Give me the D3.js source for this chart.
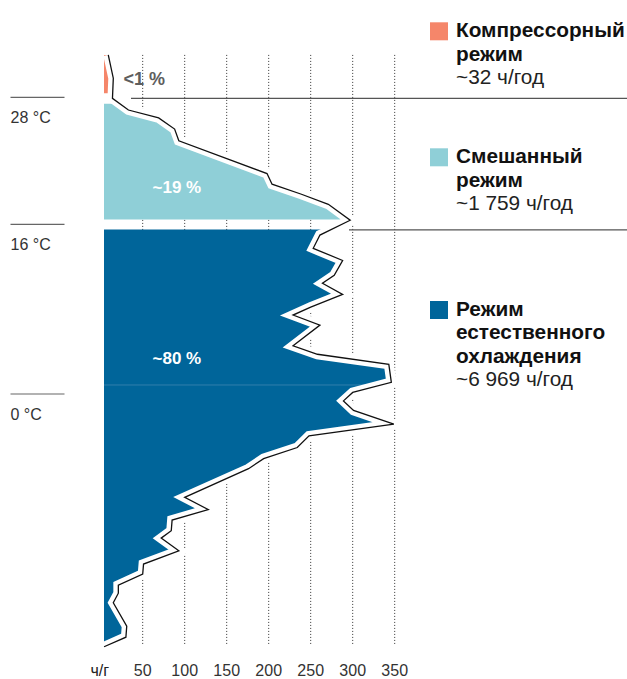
<!DOCTYPE html>
<html>
<head>
<meta charset="utf-8">
<script src="https://cdn.jsdelivr.net/npm/d3@7"></script>
<style>
    body { margin: 0; background: #fff; }
    svg { display: block; font-family: "Liberation Sans", Arial, sans-serif; }
</style>
</head>
<body>
<svg id="chart" width="627" height="679"></svg>
<script>
// profile: outside temperature (°C) -> hours per year
const temps = [32.0, 29.8, 27.9, 26.8, 26.05, 25.0, 23.9, 20.8, 19.8, 18.85, 17.9, 16.4, 15.0, 13.75, 12.6, 11.2,
    10.45, 9.4, 8.2, 7.45, 6.5, 4.55, 3.75, 2.8, 1.1, 0.15, -0.65, -1.55, -2.85, -3.95, -5.05, -6.1, -7.05,
    -9.75, -10.9, -11.9, -12.9, -13.6, -14.8, -16.05, -17.0, -18.05, -18.8, -19.7, -21.9, -22.95, -23.85];
const hours = [9, 15, 14, 33, 69, 88, 93, 198, 204, 239, 271, 297, 261, 253, 288, 278,
    264, 288, 250, 229, 261, 229, 258, 343, 346, 300, 289, 301, 349, 248, 234, 194, 176,
    100, 128, 85, 84, 72, 93, 51, 50, 21, 21, 15, 31, 30, 4];

const xTicks = [50, 100, 150, 200, 250, 300, 350];
const tempMarks = [28, 16, 0];
const tempLabels = ["28 °C", "16 °C", "0 °C"];

const modeColors = ["#f5866a", "#8fcfd7", "#00659a"];
const modeRanges = [[34, 28], [28, 16], [16, -26]];
const modeShares = ["<1 %", "~19 %", "~80 %"];
const modeTitles = [["Компрессорный", "режим"], ["Смешанный", "режим"], ["Режим", "естественного", "охлаждения"]];
const modeHours = ["~32 ч/год", "~1 759 ч/год", "~6 969 ч/год"];

const svg = d3.select('#chart');
const width = +svg.attr('width');

const x = d3.scaleLinear().domain([0, 350]).range([100.7, 394.7]);
const y = d3.scaleLinear().domain([28, 0]).range([97.3, 394]);

const profile = temps.map((t, i) => ({ t: t, h: hours[i] }));

// dotted grid
svg.append('g')
    .selectAll('line')
    .data(xTicks)
    .join('line')
    .attr('x1', d => x(d))
    .attr('x2', d => x(d))
    .attr('y1', y(32))
    .attr('y2', 645)
    .attr('stroke', '#333')
    .attr('stroke-width', 1)
    .attr('stroke-dasharray', '1,2');

// clip each mode to its temperature band, leaving a white gap between them
const defs = svg.append('defs');
const gapTop = [0, 6.5, 5];
const gapBottom = [4, 5, 0];
modeRanges.forEach((r, i) => {
    defs.append('clipPath')
        .attr('id', 'mode' + i)
        .append('rect')
        .attr('x', 0)
        .attr('width', width)
        .attr('y', y(r[0]) + gapTop[i])
        .attr('height', y(r[1]) - y(r[0]) - gapTop[i] - gapBottom[i]);
});

const area = d3.area()
    .y(d => y(d.t))
    .x0(x(0) + 3.3)
    .x1(d => x(d.h));

const line = d3.line()
    .x(d => x(d.h))
    .y(d => y(d.t));

svg.append('g')
    .selectAll('path')
    .data(modeColors)
    .join('path')
    .attr('d', area(profile))
    .attr('fill', d => d)
    .attr('clip-path', (d, i) => 'url(#mode' + i + ')');

// faint seam in the blue fill
svg.append('line')
    .attr('x1', x(0) + 3.3)
    .attr('x2', x(350))
    .attr('y1', y(0.85))
    .attr('y2', y(0.85))
    .attr('stroke', '#3d86b0')
    .attr('stroke-width', 0.8)
    .attr('clip-path', 'url(#mode2)');

// white halo, then the profile line
svg.append('path')
    .attr('d', line(profile))
    .attr('fill', 'none')
    .attr('stroke', '#fff')
    .attr('stroke-width', 10)
    .attr('stroke-linejoin', 'miter')
    .attr('stroke-miterlimit', 10);

svg.append('path')
    .attr('d', line(profile))
    .attr('fill', 'none')
    .attr('stroke', '#111')
    .attr('stroke-width', 1.3)
    .attr('stroke-linejoin', 'miter');

// share labels inside the profile
const shareX = [123.5, 152.5, 152.5];
const shareY = [85, 193, 364];
const shareSize = [18, 17, 17];
const shareColor = ['#5e5e5e', '#fff', '#fff'];
svg.append('g')
    .selectAll('text')
    .data(modeShares)
    .join('text')
    .attr('x', (d, i) => shareX[i])
    .attr('y', (d, i) => shareY[i])
    .attr('fill', (d, i) => shareColor[i])
    .style('font-size', (d, i) => shareSize[i] + 'px')
    .style('font-weight', 'bold')
    .text(d => d);

// temperature marks on the left
const marks = svg.append('g')
    .selectAll('g')
    .data(tempMarks)
    .join('g');
marks.append('line')
    .attr('x1', 10.5)
    .attr('x2', 64.5)
    .attr('y1', d => y(d))
    .attr('y2', d => y(d))
    .attr('stroke', '#666')
    .attr('stroke-width', 1.2);
marks.append('text')
    .attr('x', 10.5)
    .attr('y', d => y(d) + 25.5)
    .attr('fill', '#333')
    .style('font-size', '16px')
    .text((d, i) => tempLabels[i]);

// x axis labels
svg.append('g')
    .selectAll('text')
    .data(xTicks)
    .join('text')
    .attr('x', d => x(d))
    .attr('y', 676)
    .attr('text-anchor', 'middle')
    .attr('fill', '#333')
    .style('font-size', '16px')
    .text(d => d);
svg.append('text')
    .attr('x', 90.5)
    .attr('y', 676)
    .attr('fill', '#222')
    .style('font-size', '16px')
    .text('ч/г');

// separators on the right
svg.append('line')
    .attr('x1', 131).attr('x2', width)
    .attr('y1', y(28) + 1).attr('y2', y(28) + 1)
    .attr('stroke', '#555').attr('stroke-width', 1.2);
svg.append('line')
    .attr('x1', 349).attr('x2', width)
    .attr('y1', y(16) + 5.5).attr('y2', y(16) + 5.5)
    .attr('stroke', '#555').attr('stroke-width', 1.2);

// legend
const legendTop = [22.3, 148.3, 301];
const legend = svg.append('g')
    .selectAll('g')
    .data(modeColors)
    .join('g')
    .attr('transform', (d, i) => 'translate(430,' + legendTop[i] + ')');
legend.append('rect')
    .attr('width', 18)
    .attr('height', 18)
    .attr('fill', d => d);
legend.each(function (d, i) {
    const g = d3.select(this);
    modeTitles[i].forEach((s, k) => {
        g.append('text')
            .attr('x', 26)
            .attr('y', 15 + k * 23.3)
            .attr('fill', '#111')
            .style('font-size', '20.8px')
            .style('font-weight', 'bold')
            .text(s);
    });
    g.append('text')
        .attr('x', 26)
        .attr('y', 15 + modeTitles[i].length * 23.3)
        .attr('fill', '#222')
        .style('font-size', '20.8px')
        .text(modeHours[i]);
});
</script>
</body>
</html>
